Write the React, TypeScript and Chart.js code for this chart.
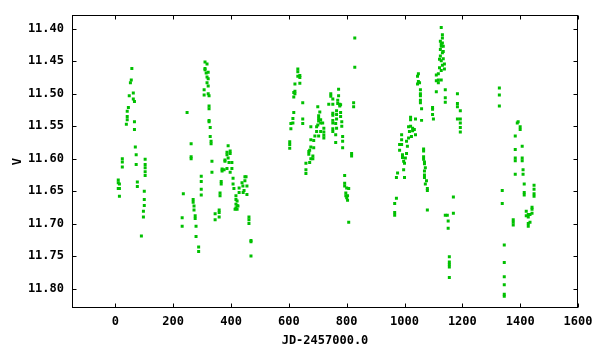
import React, { useEffect, useRef } from "react";
import { Chart, registerables } from "chart.js";

Chart.register(...registerables);

// [JD-2457000.0, V magnitude]
const season1: [number, number][] = [
  [10, 11.633], [10, 11.637], [14, 11.639], [10, 11.646], [14, 11.646], [14, 11.658],
  [24, 11.600], [24, 11.605], [24, 11.613],
  [38, 11.547], [41, 11.540], [41, 11.535], [41, 11.527], [45, 11.521], [48, 11.503], [52, 11.483],
  [55, 11.479], [57, 11.461], [62, 11.499], [62, 11.508], [66, 11.512], [66, 11.543], [66, 11.555],
  [69, 11.582], [72, 11.594], [72, 11.609],
  [76, 11.636], [76, 11.643], [90, 11.719], [97, 11.690], [97, 11.681], [100, 11.672], [100, 11.663],
  [100, 11.650], [103, 11.601], [103, 11.609], [103, 11.614], [103, 11.620], [103, 11.626],
];

const season2: [number, number][] = [
  [231, 11.691], [231, 11.704], [235, 11.654], [248, 11.529], [262, 11.577], [262, 11.597], [262, 11.600],
  [269, 11.663], [269, 11.667], [272, 11.673], [272, 11.679], [276, 11.688], [276, 11.692], [279, 11.704],
  [279, 11.720], [288, 11.736], [288, 11.743],
  [297, 11.627], [297, 11.635], [297, 11.647], [297, 11.656],
  [307, 11.494], [307, 11.502], [310, 11.451], [310, 11.461], [310, 11.463], [314, 11.468], [317, 11.454],
  [317, 11.474], [317, 11.483], [321, 11.467], [321, 11.477], [321, 11.488], [321, 11.500], [324, 11.503],
  [324, 11.519], [324, 11.523], [324, 11.541], [324, 11.543], [328, 11.552], [328, 11.566], [331, 11.573],
  [331, 11.577], [334, 11.604], [334, 11.621],
  [345, 11.685], [345, 11.694], [359, 11.679], [359, 11.683], [359, 11.690], [362, 11.653], [362, 11.657],
  [366, 11.635], [366, 11.639],
  [369, 11.616], [369, 11.619], [376, 11.617], [379, 11.604], [379, 11.602], [386, 11.590], [386, 11.594],
  [386, 11.615], [390, 11.580], [390, 11.599], [393, 11.606], [397, 11.588], [397, 11.592], [397, 11.621],
  [403, 11.606], [403, 11.615], [407, 11.630], [407, 11.639], [410, 11.646],
  [414, 11.678], [417, 11.657], [417, 11.663], [417, 11.670], [417, 11.676], [421, 11.665], [421, 11.672],
  [421, 11.678], [424, 11.673], [428, 11.645], [428, 11.652], [438, 11.637], [441, 11.642], [442, 11.652],
  [445, 11.649], [448, 11.628], [448, 11.634], [452, 11.628], [455, 11.642], [455, 11.655],
  [462, 11.690], [462, 11.694], [462, 11.700], [469, 11.726], [469, 11.728], [469, 11.750],
];

const season3: [number, number][] = [
  [603, 11.574], [603, 11.578], [603, 11.584], [607, 11.546], [607, 11.554], [614, 11.538], [614, 11.545],
  [617, 11.498], [617, 11.505], [617, 11.529], [621, 11.485], [621, 11.496], [621, 11.500], [631, 11.462],
  [631, 11.466], [631, 11.473], [638, 11.472], [638, 11.475], [638, 11.484], [648, 11.514], [648, 11.539],
  [648, 11.546],
  [659, 11.607], [659, 11.617], [659, 11.623], [669, 11.589], [669, 11.593], [672, 11.587], [672, 11.606],
  [676, 11.551], [676, 11.571], [676, 11.582], [676, 11.600], [683, 11.596], [683, 11.600], [686, 11.572],
  [686, 11.583], [690, 11.565], [696, 11.551], [696, 11.558], [700, 11.520], [700, 11.548], [703, 11.534],
  [703, 11.538], [703, 11.542], [703, 11.565], [707, 11.528], [710, 11.540], [710, 11.545], [710, 11.558],
  [717, 11.545], [721, 11.553], [721, 11.559], [721, 11.564], [721, 11.568],
  [738, 11.516], [745, 11.500], [745, 11.504], [752, 11.508], [752, 11.516], [752, 11.530], [752, 11.533],
  [752, 11.541], [752, 11.545], [752, 11.554], [752, 11.558], [762, 11.546], [762, 11.563], [762, 11.575],
  [765, 11.526], [765, 11.532], [765, 11.539], [765, 11.553], [769, 11.510], [769, 11.515], [772, 11.493],
  [772, 11.503], [776, 11.516], [776, 11.519], [779, 11.517], [779, 11.529], [779, 11.535], [783, 11.543],
  [783, 11.550], [786, 11.566], [786, 11.573], [786, 11.583],
  [793, 11.626], [793, 11.638], [793, 11.642], [797, 11.653], [797, 11.657], [800, 11.645], [800, 11.660],
  [803, 11.657], [803, 11.664], [807, 11.646], [807, 11.698], [817, 11.592], [817, 11.596], [824, 11.514],
  [824, 11.520], [828, 11.459], [828, 11.414],
];

const season4: [number, number][] = [
  [966, 11.669], [966, 11.683], [966, 11.687], [972, 11.629], [972, 11.661], [976, 11.622], [983, 11.578],
  [983, 11.587], [990, 11.563], [990, 11.571], [990, 11.578], [993, 11.594], [993, 11.598], [997, 11.604],
  [997, 11.617], [1000, 11.607], [1000, 11.629], [1003, 11.599], [1007, 11.573], [1007, 11.592],
  [1010, 11.581], [1014, 11.551], [1014, 11.568], [1017, 11.558], [1021, 11.536], [1021, 11.540],
  [1021, 11.550], [1024, 11.566], [1028, 11.553], [1028, 11.557], [1034, 11.555], [1038, 11.539],
  [1038, 11.563],
  [1045, 11.473], [1045, 11.485], [1048, 11.469], [1048, 11.481], [1052, 11.483], [1055, 11.494],
  [1055, 11.500], [1055, 11.503], [1055, 11.510], [1055, 11.514], [1059, 11.523], [1059, 11.541],
  [1066, 11.585], [1066, 11.588], [1066, 11.597], [1066, 11.601], [1069, 11.605], [1069, 11.608],
  [1072, 11.614], [1069, 11.619], [1069, 11.625], [1069, 11.629], [1076, 11.634], [1072, 11.639],
  [1079, 11.646], [1079, 11.649], [1079, 11.679],
  [1097, 11.521], [1097, 11.524], [1097, 11.532], [1100, 11.539],
  [1110, 11.471], [1110, 11.480], [1110, 11.497], [1117, 11.469], [1117, 11.479], [1117, 11.483],
  [1121, 11.447], [1121, 11.460], [1124, 11.419], [1124, 11.432], [1124, 11.442], [1127, 11.398],
  [1127, 11.423], [1127, 11.427], [1127, 11.449], [1127, 11.464], [1127, 11.479], [1131, 11.409],
  [1131, 11.414], [1131, 11.422], [1131, 11.437], [1131, 11.456], [1134, 11.427], [1134, 11.435],
  [1134, 11.446], [1138, 11.454], [1138, 11.462], [1141, 11.494], [1141, 11.506], [1141, 11.513],
  [1141, 11.687], [1148, 11.687], [1151, 11.696], [1151, 11.707], [1155, 11.751], [1155, 11.759],
  [1155, 11.763], [1155, 11.767], [1155, 11.783],
  [1169, 11.659], [1169, 11.684], [1183, 11.500], [1183, 11.515], [1183, 11.520], [1183, 11.539],
  [1193, 11.526], [1193, 11.539], [1193, 11.545], [1193, 11.552], [1193, 11.559],
];

const season5: [number, number][] = [
  [1328, 11.491], [1328, 11.502], [1328, 11.519], [1338, 11.649], [1338, 11.669], [1345, 11.733],
  [1345, 11.760], [1345, 11.782], [1345, 11.794], [1345, 11.809], [1345, 11.812],
  [1376, 11.694], [1376, 11.698], [1376, 11.702], [1383, 11.565], [1383, 11.586], [1383, 11.599],
  [1383, 11.603], [1383, 11.624], [1390, 11.545], [1393, 11.543], [1400, 11.551], [1400, 11.555],
  [1407, 11.581], [1407, 11.599], [1407, 11.603], [1410, 11.617], [1410, 11.624], [1414, 11.639],
  [1414, 11.652], [1414, 11.656],
  [1421, 11.681], [1421, 11.688], [1428, 11.686], [1428, 11.690], [1428, 11.700], [1428, 11.704],
  [1434, 11.686], [1434, 11.698], [1441, 11.675], [1441, 11.678], [1441, 11.684], [1448, 11.641],
  [1448, 11.647], [1448, 11.654], [1448, 11.658],
];

const xTicks = [0, 200, 400, 600, 800, 1000, 1200, 1400, 1600];
const yTicks = [11.4, 11.45, 11.5, 11.55, 11.6, 11.65, 11.7, 11.75, 11.8];
const xTitle = "JD-2457000.0";
const yTitle = "V";

const FONT = "'DejaVu Sans Mono', 'Liberation Mono', monospace";

const framePlugin = {
  id: "gnuFrame",
  afterDatasetsDraw(chart: any) {
    const { ctx, chartArea: a, scales } = chart;
    const L = Math.round(a.left) + 0.5;
    const R = Math.round(a.right) - 0.5;
    const T = Math.round(a.top) + 0.5;
    const B = Math.round(a.bottom) - 0.5;
    const len = 4;
    ctx.save();
    ctx.strokeStyle = "#000";
    ctx.lineWidth = 1;
    ctx.strokeRect(L, T, R - L, B - T);
    ctx.beginPath();
    for (const t of scales.x.ticks) {
      const px = Math.round(scales.x.getPixelForValue(t.value)) + 0.5;
      ctx.moveTo(px, B);
      ctx.lineTo(px, B - len);
      ctx.moveTo(px, T);
      ctx.lineTo(px, T + len);
    }
    for (const t of scales.y.ticks) {
      const py = Math.round(scales.y.getPixelForValue(t.value)) + 0.5;
      ctx.moveTo(L, py);
      ctx.lineTo(L + len, py);
      ctx.moveTo(R, py);
      ctx.lineTo(R - len, py);
    }
    ctx.stroke();
    ctx.restore();
  },
};

export default function App() {
  const ref = useRef<HTMLCanvasElement | null>(null);

  useEffect(() => {
    if (!ref.current) return;
    const points = [...season1, ...season2, ...season3, ...season4, ...season5].map(([x, y]) => ({ x, y }));
    const chart = new Chart(ref.current, {
      type: "scatter",
      data: {
        datasets: [
          {
            data: points,
            backgroundColor: "#00c000",
            borderWidth: 0,
            pointStyle: "rect",
            pointRadius: 2.12,
          },
        ],
      },
      options: {
        animation: false,
        responsive: false,
        devicePixelRatio: 1,
        layout: { padding: { left: 0, right: 22, top: 13, bottom: 0 } },
        plugins: { legend: { display: false }, tooltip: { enabled: false } },
        scales: {
          x: {
            type: "linear",
            min: -150,
            max: 1600,
            grid: { display: false, drawTicks: false },
            border: { display: false },
            afterBuildTicks: (s: any) => {
              s.ticks = xTicks.map((v) => ({ value: v }));
            },
            afterFit: (s: any) => {
              s.height = 42;
            },
            ticks: {
              padding: 7,
              color: "#000",
              maxRotation: 0,
              autoSkip: false,
              font: { family: FONT, size: 12, weight: "bold" },
              callback: (v: any) => String(v),
            },
            title: {
              display: true,
              text: xTitle,
              color: "#000",
              padding: { top: 0, bottom: 2 },
              font: { family: FONT, size: 12, weight: "bold" },
            },
          },
          y: {
            type: "linear",
            reverse: true,
            min: 11.379,
            max: 11.83,
            grid: { display: false, drawTicks: false },
            border: { display: false },
            afterBuildTicks: (s: any) => {
              s.ticks = yTicks.map((v) => ({ value: v }));
            },
            afterFit: (s: any) => {
              s.width = 72;
            },
            ticks: {
              padding: 8,
              color: "#000",
              autoSkip: false,
              font: { family: FONT, size: 12, weight: "bold" },
              callback: (v: any) => Number(v).toFixed(2),
            },
            title: {
              display: true,
              text: yTitle,
              color: "#000",
              padding: { top: 11, bottom: 0 },
              font: { family: FONT, size: 12, weight: "bold" },
            },
          },
        },
      },
      plugins: [framePlugin],
    });
    return () => chart.destroy();
  }, []);

  return (
    <div style={{ position: "fixed", left: 0, top: 0, width: 600, height: 350, background: "#fff" }}>
      <canvas ref={ref} width={600} height={350} style={{ display: "block", width: 600, height: 350 }} />
    </div>
  );
}
